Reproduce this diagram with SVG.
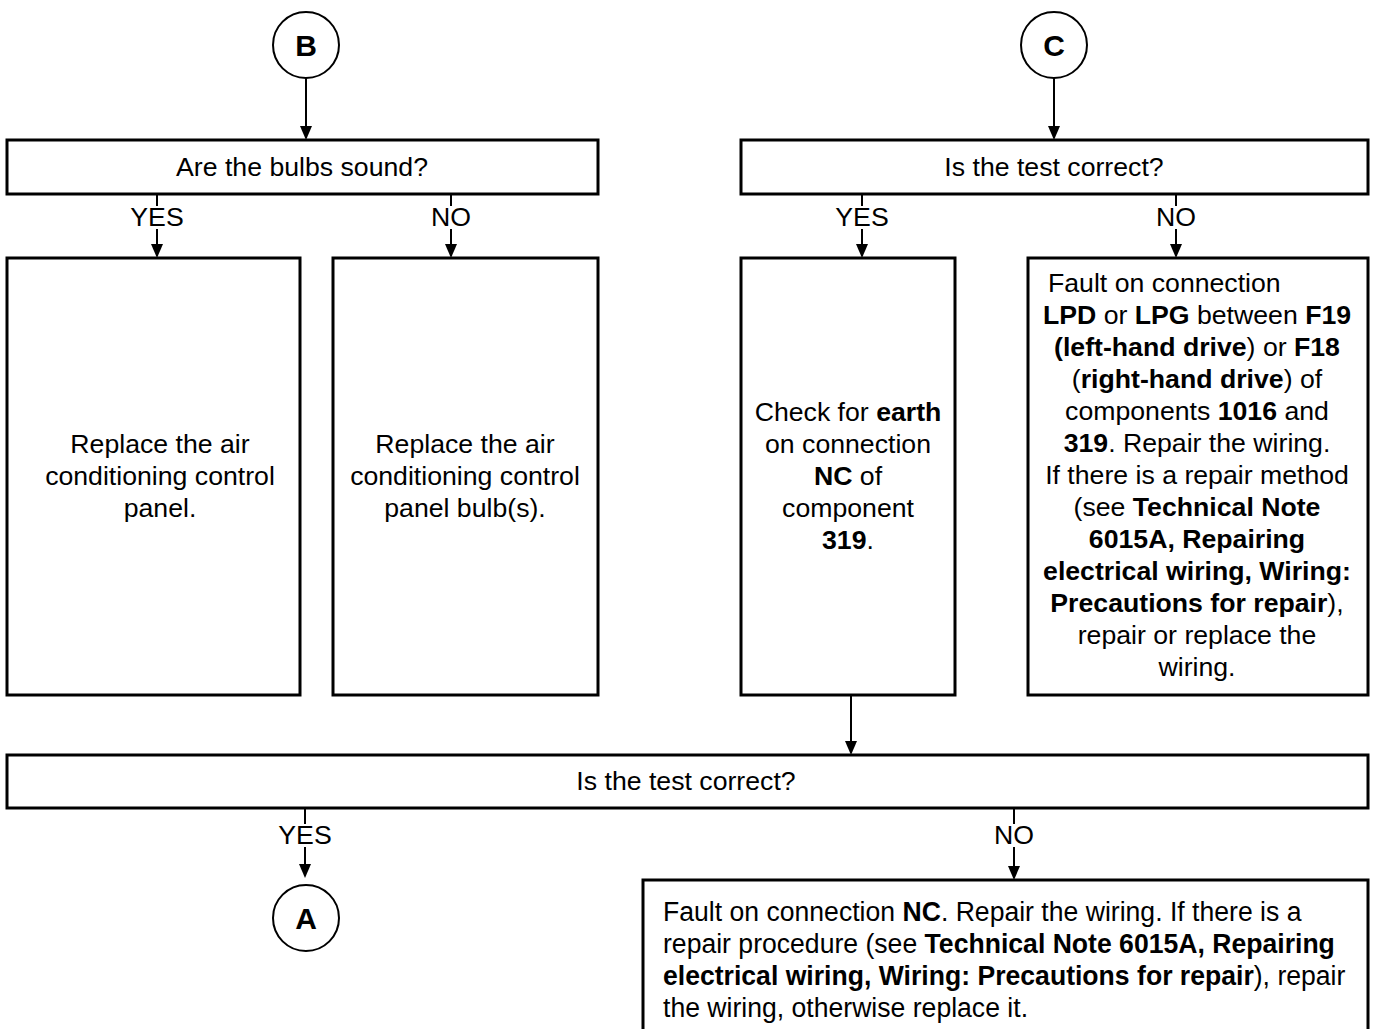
<svg xmlns="http://www.w3.org/2000/svg" width="1373" height="1029" viewBox="0 0 1373 1029">
<defs>
<marker id="ah" markerWidth="14" markerHeight="12" refX="0" refY="6" orient="auto" markerUnits="userSpaceOnUse" viewBox="0 0 14 12">
<path d="M0,0 L14,6 L0,12 Z" fill="#000"/>
</marker>
<style>
.box{fill:#fff;stroke:#000;stroke-width:3}
.circ{fill:#fff;stroke:#000;stroke-width:2}
.ln{fill:none;stroke:#000;stroke-width:2}
.t{font-family:"Liberation Sans",Arial,sans-serif;font-size:26.67px;fill:#000}
.c{text-anchor:middle}
.b{font-weight:bold}
.big{font-size:30px}
.tall{font-size:28px}
</style>
</defs>
<rect width="1373" height="1029" fill="#fff"/>
<g id="connectors">
<line class="ln" x1="306" y1="78" x2="306" y2="126" marker-end="url(#ah)"/>
<line class="ln" x1="1054" y1="78" x2="1054" y2="126" marker-end="url(#ah)"/>
<line class="ln" x1="157" y1="194" x2="157" y2="206"/>
<line class="ln" x1="157" y1="229" x2="157" y2="244" marker-end="url(#ah)"/>
<line class="ln" x1="451" y1="194" x2="451" y2="206"/>
<line class="ln" x1="451" y1="229" x2="451" y2="244" marker-end="url(#ah)"/>
<line class="ln" x1="862" y1="194" x2="862" y2="206"/>
<line class="ln" x1="862" y1="229" x2="862" y2="244" marker-end="url(#ah)"/>
<line class="ln" x1="1176" y1="194" x2="1176" y2="206"/>
<line class="ln" x1="1176" y1="229" x2="1176" y2="244" marker-end="url(#ah)"/>
<line class="ln" x1="851" y1="695" x2="851" y2="741" marker-end="url(#ah)"/>
<line class="ln" x1="305" y1="808" x2="305" y2="824"/>
<line class="ln" x1="305" y1="847" x2="305" y2="864" marker-end="url(#ah)"/>
<line class="ln" x1="1014" y1="808" x2="1014" y2="824"/>
<line class="ln" x1="1014" y1="847" x2="1014" y2="866" marker-end="url(#ah)"/>
<text class="t c" x="157" y="226">YES</text>
<text class="t c" x="451" y="226">NO</text>
<text class="t c" x="862" y="226">YES</text>
<text class="t c" x="1176" y="226">NO</text>
<text class="t c" x="305" y="844">YES</text>
<text class="t c" x="1014" y="844">NO</text>
</g>
<g id="nodeB">
<circle class="circ" cx="306" cy="45" r="33"/>
<text class="t c b big" x="306" y="56">B</text>
</g>
<g id="nodeC">
<circle class="circ" cx="1054" cy="45" r="33"/>
<text class="t c b big" x="1054" y="56">C</text>
</g>
<g id="q1">
<rect class="box" x="7" y="140" width="591" height="54"/>
<text class="t c" x="302" y="176">Are the bulbs sound?</text>
</g>
<g id="q2">
<rect class="box" x="741" y="140" width="627" height="54"/>
<text class="t c" x="1054" y="176">Is the test correct?</text>
</g>
<g id="r1">
<rect class="box" x="7" y="258" width="293" height="437"/>
<text class="t c" x="160"><tspan x="160" y="453">Replace the air</tspan><tspan x="160" y="485">conditioning control</tspan><tspan x="160" y="517">panel.</tspan></text>
</g>
<g id="r2">
<rect class="box" x="333" y="258" width="265" height="437"/>
<text class="t c" x="465"><tspan x="465" y="453">Replace the air</tspan><tspan x="465" y="485">conditioning control</tspan><tspan x="465" y="517">panel bulb(s).</tspan></text>
</g>
<g id="r3">
<rect class="box" x="741" y="258" width="214" height="437"/>
<text class="t c" x="848" y="421">Check for <tspan class="b">earth</tspan></text>
<text class="t c" x="848" y="453">on connection</text>
<text class="t c" x="848" y="485"><tspan class="b">NC</tspan> of</text>
<text class="t c" x="848" y="517">component</text>
<text class="t c" x="848" y="549"><tspan class="b">319</tspan>.</text>
</g>
<g id="r4">
<rect class="box" x="1028" y="258" width="340" height="437"/>
<text class="t" x="1048" y="292">Fault on connection</text>
<text class="t c" x="1197" y="324"><tspan class="b">LPD</tspan> or <tspan class="b">LPG</tspan> between <tspan class="b">F19</tspan></text>
<text class="t c" x="1197" y="356"><tspan class="b">(left-hand drive</tspan>) or <tspan class="b">F18</tspan></text>
<text class="t c" x="1197" y="388">(<tspan class="b">right-hand drive</tspan>) of</text>
<text class="t c" x="1197" y="420">components <tspan class="b">1016</tspan> and</text>
<text class="t c" x="1197" y="452"><tspan class="b">319</tspan>. Repair the wiring.</text>
<text class="t c" x="1197" y="484">If there is a repair method</text>
<text class="t c" x="1197" y="516">(see <tspan class="b">Technical Note</tspan></text>
<text class="t c b" x="1197" y="548">6015A, Repairing</text>
<text class="t c b" x="1197" y="580">electrical wiring, Wiring:</text>
<text class="t c" x="1197" y="612"><tspan class="b">Precautions for repair</tspan>),</text>
<text class="t c" x="1197" y="644">repair or replace the</text>
<text class="t c" x="1197" y="676">wiring.</text>
</g>
<g id="q3">
<rect class="box" x="7" y="755" width="1361" height="53"/>
<text class="t c" x="686" y="790">Is the test correct?</text>
</g>
<g id="nodeA">
<circle class="circ" cx="306" cy="918" r="33"/>
<text class="t c b big" x="306" y="929">A</text>
</g>
<g id="r5">
<rect class="box" x="643" y="880" width="725" height="170"/>
<g transform="translate(663,0) scale(0.95,1)">
<text class="t tall" x="0" y="921">Fault on connection <tspan class="b">NC</tspan>. Repair the wiring. If there is a</text>
<text class="t tall" x="0" y="953">repair procedure (see <tspan class="b">Technical Note 6015A, Repairing</tspan></text>
<text class="t tall" x="0" y="985"><tspan class="b">electrical wiring, Wiring: Precautions for repair</tspan>), repair</text>
<text class="t tall" x="0" y="1017">the wiring, otherwise replace it.</text>
</g>
</g>
</svg>
